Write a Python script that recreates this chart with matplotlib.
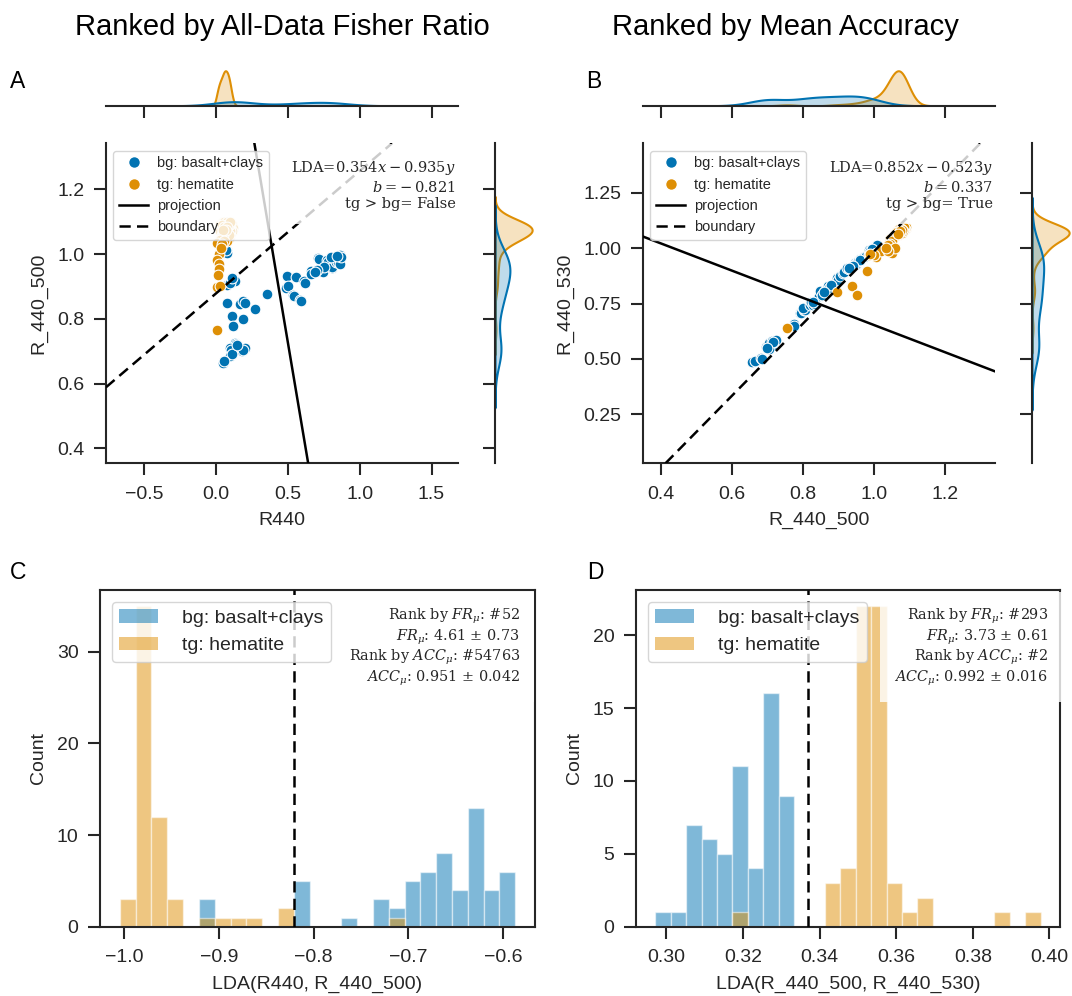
import numpy as np
import pandas as pd
import matplotlib
matplotlib.use("Agg")
import matplotlib.pyplot as plt
import seaborn as sns
from matplotlib.lines import Line2D
from matplotlib.patches import Patch
from matplotlib.ticker import MultipleLocator

# ---------------- data ----------------
groups = ["bg: basalt+clays", "tg: hematite"]
colors = ["#0173b2", "#de8f05"]
titles = ["Ranked by All-Data Fisher Ratio", "Ranked by Mean Accuracy"]

# Panel A : R440 (x) vs R_440_500 (y)
a_bg_points = [
    (0.075, 1.008), (0.080, 1.003), (0.070, 1.012), (0.075, 0.906), (0.121, 0.921),
    (0.130, 0.918), (0.095, 0.912), (0.110, 0.925), (0.075, 0.849), (0.168, 0.846),
    (0.191, 0.854), (0.200, 0.850), (0.272, 0.829), (0.110, 0.808), (0.191, 0.798),
    (0.117, 0.777), (0.133, 0.726), (0.140, 0.722), (0.098, 0.710), (0.105, 0.705),
    (0.179, 0.700), (0.202, 0.710), (0.190, 0.705), (0.098, 0.685), (0.110, 0.690),
    (0.048, 0.665), (0.060, 0.670), (0.150, 0.720),
    (0.357, 0.877), (0.497, 0.933), (0.557, 0.929), (0.487, 0.895), (0.500, 0.900),
    (0.538, 0.875), (0.545, 0.870), (0.585, 0.859), (0.590, 0.855), (0.613, 0.916),
    (0.620, 0.910), (0.659, 0.947), (0.665, 0.940), (0.712, 0.988), (0.720, 0.985),
    (0.736, 0.950), (0.745, 0.945), (0.773, 0.982), (0.780, 0.975), (0.805, 0.957),
    (0.810, 0.960), (0.829, 0.982), (0.835, 0.975), (0.852, 0.974), (0.860, 0.970),
    (0.863, 0.998), (0.870, 0.990), (0.750, 0.960), (0.700, 0.950), (0.800, 0.990),
    (0.840, 0.995), (0.690, 0.945),
]
a_tg_points = [
    (0.03, 1.09), (0.05, 1.10), (0.07, 1.09), (0.09, 1.10), (0.11, 1.09),
    (0.04, 1.08), (0.06, 1.08), (0.08, 1.08), (0.10, 1.08), (0.12, 1.08),
    (0.03, 1.07), (0.05, 1.07), (0.07, 1.07), (0.09, 1.07), (0.11, 1.07),
    (0.04, 1.06), (0.06, 1.06), (0.08, 1.06), (0.10, 1.06), (0.05, 1.05),
    (0.07, 1.05), (0.09, 1.05), (0.06, 1.04), (0.08, 1.04), (0.03, 1.04),
    (0.06, 1.09), (0.08, 1.09), (0.10, 1.09), (0.07, 1.08), (0.09, 1.08),
    (0.05, 1.08), (0.06, 1.07), (0.08, 1.07), (0.10, 1.07), (0.07, 1.06),
    (0.09, 1.06), (0.05, 1.06), (0.07, 1.10), (0.06, 1.10), (0.08, 1.10),
    (0.04, 1.09), (0.09, 1.09), (0.10, 1.10), (0.06, 1.085), (0.08, 1.085),
    (0.07, 1.075), (0.05, 1.075),
    (0.031, 1.044), (0.010, 1.034), (0.055, 1.040), (0.040, 1.030), (0.020, 1.000),
    (0.010, 0.982), (0.020, 0.970), (0.024, 0.954), (0.017, 0.936), (0.010, 0.898),
    (0.030, 0.900), (0.006, 0.767), (0.035, 1.020),
]
a_w = [0.354, -0.935]
a_b = -0.821
a_flag = False
a_anchor = (0.388, 1.025)
a_xlim = (-0.764, 1.684)
a_ylim = (0.354, 1.342)

# Panel B : R_440_500 (x) vs R_440_530 (y)
b_bg_points = [
    (0.657, 0.484), (0.665, 0.490), (0.681, 0.504), (0.684, 0.500), (0.695, 0.556),
    (0.700, 0.549), (0.706, 0.571), (0.714, 0.579), (0.712, 0.560), (0.720, 0.575),
    (0.705, 0.545), (0.725, 0.585), (0.774, 0.658), (0.776, 0.649), (0.793, 0.707),
    (0.795, 0.709), (0.803, 0.722), (0.805, 0.720), (0.800, 0.729), (0.821, 0.744),
    (0.824, 0.759), (0.829, 0.744), (0.835, 0.750), (0.845, 0.782), (0.848, 0.805),
    (0.855, 0.790), (0.864, 0.812), (0.871, 0.827), (0.875, 0.820), (0.892, 0.849),
    (0.895, 0.865), (0.900, 0.855), (0.906, 0.872), (0.914, 0.887), (0.915, 0.894),
    (0.924, 0.910), (0.930, 0.905), (0.943, 0.925), (0.948, 0.932), (0.950, 0.930),
    (0.955, 0.940), (0.962, 0.950), (0.971, 0.962), (0.972, 0.959), (0.978, 0.965),
    (0.986, 0.977), (0.986, 0.992), (0.990, 0.985), (1.000, 1.000), (1.009, 1.015),
    (1.010, 1.015), (0.995, 0.995), (0.960, 0.945), (0.940, 0.920), (0.930, 0.910),
    (0.880, 0.835), (0.860, 0.800), (0.830, 0.755), (0.715, 0.575), (0.700, 0.550),
]
b_tg_points = [
    (1.090, 1.090), (1.080, 1.085), (1.070, 1.070), (1.075, 1.080), (1.085, 1.090),
    (1.065, 1.065), (1.060, 1.060), (1.080, 1.075), (1.070, 1.080), (1.090, 1.095),
    (1.075, 1.070), (1.065, 1.075), (1.085, 1.080), (1.080, 1.090), (1.070, 1.065),
    (1.060, 1.055), (1.055, 1.050), (1.050, 1.045), (1.045, 1.040), (1.043, 1.023),
    (1.071, 1.068), (1.076, 1.078), (1.082, 1.082), (1.088, 1.088), (1.066, 1.062),
    (1.072, 1.074), (1.078, 1.084), (1.084, 1.086), (1.062, 1.068), (1.068, 1.058),
    (1.074, 1.066), (1.080, 1.070), (1.086, 1.094), (1.058, 1.050), (1.050, 1.030),
    (1.045, 1.020), (1.040, 1.015), (1.070, 1.085), (1.077, 1.088), (1.083, 1.078),
    (1.064, 1.072), (1.079, 1.081), (1.073, 1.077), (1.067, 1.063),
    (1.005, 0.977), (0.985, 0.970), (1.005, 0.960), (0.981, 0.899), (0.938, 0.827),
    (0.952, 0.789), (0.897, 0.804), (0.756, 0.639), (1.052, 0.977), (1.030, 0.990),
    (1.020, 0.985), (1.000, 0.970), (0.990, 0.975), (1.060, 1.000), (1.040, 0.985),
    (1.035, 1.000),
]
b_w = [0.852, -0.523]
b_b = 0.337
b_flag = True
b_anchor = (0.852, 0.744)
b_xlim = (0.350, 1.341)
b_ylim = (0.029, 1.473)

# Panel C : histogram of LDA(R440, R_440_500)
c_bin_start = -1.0046
c_bin_width = 0.01669
c_bg_counts = [0, 0, 0, 0, 0, 3, 0, 0, 0, 0, 0, 5, 0, 0, 1, 0, 3, 2, 5, 6, 8, 4, 13, 4, 6]
c_tg_counts = [3, 35, 12, 3, 0, 1, 1, 1, 1, 0, 2, 0, 0, 0, 0, 0, 0, 1, 0, 0, 0, 0, 0, 0, 0]
c_stats = dict(rank_fr=52, fr=(4.61, 0.73), rank_acc=54763, acc=(0.951, 0.042))

# Panel D : histogram of LDA(R_440_500, R_440_530)
d_bin_start = 0.29713
d_bin_width = 0.004024
d_bg_counts = [1, 1, 7, 6, 5, 11, 4, 16, 9, 0, 0, 0, 0, 0, 0, 0, 0, 0, 0, 0, 0, 0, 0, 0, 0]
d_tg_counts = [0, 0, 0, 0, 0, 1, 0, 0, 0, 0, 0, 3, 4, 22, 22, 3, 1, 2, 0, 0, 0, 0, 1, 0, 1]
d_stats = dict(rank_fr=293, fr=(3.73, 0.61), rank_acc=2, acc=(0.992, 0.016))

# ---------------- style ----------------
plt.rcParams.update({
    "font.family": ["Liberation Sans", "DejaVu Sans"],
    "mathtext.fontset": "dejavuserif",
    "axes.edgecolor": "0.15",
    "axes.linewidth": 1.5,
    "axes.labelcolor": "0.15",
    "axes.labelpad": 7,
    "text.color": "0.15",
    "xtick.color": "0.15",
    "ytick.color": "0.15",
    "xtick.major.size": 8.5,
    "ytick.major.size": 8.5,
    "xtick.major.width": 1.5,
    "ytick.major.width": 1.5,
    "xtick.major.pad": 7.5,
    "ytick.major.pad": 7,
    "xtick.labelsize": 14,
    "ytick.labelsize": 14,
    "axes.labelsize": 14,
    "xtick.direction": "out",
    "ytick.direction": "out",
})

W, H = 1072, 996
fig = plt.figure(figsize=(W / 100, H / 100), dpi=100)


def add_ax(x0, y0, x1, y1):
    return fig.add_axes([x0 / W, 1 - y1 / H, (x1 - x0) / W, (y1 - y0) / H])


def lda_text(w, b, flag):
    sign = "-" if w[1] < 0 else "+"
    b_str = f"-\\:{abs(b):.3f}" if b < 0 else f"{b:.3f}"
    return (f"LDA=${w[0]:.3f}x {sign} {abs(w[1]):.3f}y$\n"
            f"$b={b_str}$\n"
            f"tg > bg= {flag}")


def joint_panel(x0, bg_pts, tg_pts, w, b, anchor, flag, xlim, ylim,
                xstep, ystep, xlabel, ylabel):
    ax = add_ax(x0, 143.3, x0 + 352, 463.3)
    axt = add_ax(x0, 69, x0 + 352, 105.7)
    axr = add_ax(x0 + 389, 143.3, x0 + 428, 463.3)

    bg = np.array(bg_pts)
    tg = np.array(tg_pts)
    for arr, c in zip([bg, tg], colors):
        ax.scatter(arr[:, 0], arr[:, 1], s=60, color=c, edgecolor="white",
                   linewidth=0.8, zorder=2)
    # boundary w.x = b ; projection along w through anchor
    ax.axline((0, b / w[1]), slope=-w[0] / w[1], color="k", lw=1.8,
              ls=(0, (4.5, 2.5)), zorder=3)
    ax.axline(anchor, slope=w[1] / w[0], color="k", lw=1.8, zorder=3)
    ax.set_xlim(xlim)
    ax.set_ylim(ylim)
    ax.xaxis.set_major_locator(MultipleLocator(xstep))
    ax.yaxis.set_major_locator(MultipleLocator(ystep))
    ax.set_xlabel(xlabel)
    ax.set_ylabel(ylabel)
    for s in ["top", "right"]:
        ax.spines[s].set_visible(False)

    handles = [
        Line2D([], [], marker="o", ls="", color=colors[0], markeredgecolor="white", markersize=8.5),
        Line2D([], [], marker="o", ls="", color=colors[1], markeredgecolor="white", markersize=8.5),
        Line2D([], [], color="k", lw=1.8),
        Line2D([], [], color="k", lw=1.8, ls=(0, (4.5, 2.5))),
    ]
    leg = ax.legend(handles, groups + ["projection", "boundary"], loc="upper left",
                    fontsize=10.5, borderaxespad=0.5, handletextpad=0.6)
    leg.set_zorder(5)
    ax.text(0.994, 0.95, lda_text(w, b, flag), transform=ax.transAxes, ha="right",
            va="top", family="serif", fontsize=10.5, multialignment="right",
            zorder=4, bbox=dict(facecolor="white", alpha=0.8, edgecolor="none",
                                boxstyle="square,pad=0.9"))

    df = pd.DataFrame({
        "x": np.concatenate([bg[:, 0], tg[:, 0]]),
        "y": np.concatenate([bg[:, 1], tg[:, 1]]),
        "g": [groups[0]] * len(bg) + [groups[1]] * len(tg),
    })
    sns.kdeplot(data=df, x="x", hue="g", hue_order=groups, palette=colors, fill=True,
                ax=axt, legend=False, linewidth=1.5)
    sns.kdeplot(data=df, y="y", hue="g", hue_order=groups, palette=colors, fill=True,
                ax=axr, legend=False, linewidth=1.5)
    axt.set_xlim(xlim)
    axt.set_ylim(bottom=0)
    axr.set_ylim(ylim)
    axr.set_xlim(left=0)
    axt.xaxis.set_major_locator(MultipleLocator(xstep))
    axr.yaxis.set_major_locator(MultipleLocator(ystep))
    axt.tick_params(labelbottom=False, left=False, labelleft=False)
    axr.tick_params(labelleft=False, bottom=False, labelbottom=False)
    for s in ["top", "right", "left"]:
        axt.spines[s].set_visible(False)
    for s in ["top", "right", "bottom"]:
        axr.spines[s].set_visible(False)
    axt.set_xlabel("")
    axt.set_ylabel("")
    axr.set_xlabel("")
    axr.set_ylabel("")
    axt.patch.set_alpha(0)
    axr.patch.set_alpha(0)
    return ax


def stats_text(st):
    return (f"Rank by $FR_\\mu$: #{st['rank_fr']}\n"
            f"$FR_\\mu$: {st['fr'][0]:.2f} ± {st['fr'][1]:.2f}\n"
            f"Rank by $ACC_\\mu$: #{st['rank_acc']}\n"
            f"$ACC_\\mu$: {st['acc'][0]:.3f} ± {st['acc'][1]:.3f}")


def hist_panel(box, start, width, bg_counts, tg_counts, b, st, xlabel, ystep, tx):
    ax = add_ax(*box)
    n = len(bg_counts)
    left_edges = start + width * np.arange(n)
    for counts, c in zip([bg_counts, tg_counts], colors):
        counts = np.asarray(counts)
        keep = counts > 0
        ax.bar(left_edges[keep], counts[keep], width=width, align="edge", color=c,
               alpha=0.5, edgecolor="white", linewidth=1.0)
    ax.axvline(b, color="k", lw=1.8, ls=(0, (4.5, 2.5)), zorder=3)
    ax.yaxis.set_major_locator(MultipleLocator(ystep))
    ax.set_xlabel(xlabel)
    ax.set_ylabel("Count")
    handles = [Patch(facecolor=colors[0], alpha=0.5), Patch(facecolor=colors[1], alpha=0.5)]
    leg = ax.legend(handles, groups, loc="upper left", fontsize=14,
                    borderaxespad=0.6, handletextpad=1.2, handlelength=2.0)
    leg.set_zorder(5)
    ax.text(tx, 0.95, stats_text(st), transform=ax.transAxes, ha="right", va="top",
            family="serif", fontsize=10.4, multialignment="right", zorder=4,
            linespacing=1.1,
            bbox=dict(facecolor="white", alpha=0.8, edgecolor="none",
                      boxstyle="square,pad=1.0"))
    return ax


joint_panel(106, a_bg_points, a_tg_points, a_w, a_b, a_anchor, a_flag, a_xlim, a_ylim,
            0.5, 0.2, "R440", "R_440_500")
joint_panel(643, b_bg_points, b_tg_points, b_w, b_b, b_anchor, b_flag, b_xlim, b_ylim,
            0.2, 0.25, "R_440_500", "R_440_530")
hist_panel((100, 590, 535, 926.7), c_bin_start, c_bin_width, c_bg_counts, c_tg_counts,
           a_b, c_stats, "LDA(R440, R_440_500)", 10, 0.9655)
hist_panel((636, 590, 1060, 926.7), d_bin_start, d_bin_width, d_bg_counts, d_tg_counts,
           b_b, d_stats, "LDA(R_440_500, R_440_530)", 5, 0.972)

fig.text(282 / W, 1 - 27 / H, titles[0], ha="center", va="center", fontsize=21, color="k")
fig.text(785 / W, 1 - 27 / H, titles[1], ha="center", va="center", fontsize=21, color="k")
for lab, (x, y) in zip("ABCD", [(10, 81), (586, 81), (10, 572), (587, 572)]):
    fig.text(x / W, 1 - y / H, lab, ha="left", va="center", fontsize=16.5, color="k")

fig.savefig("out.png", dpi=100)
